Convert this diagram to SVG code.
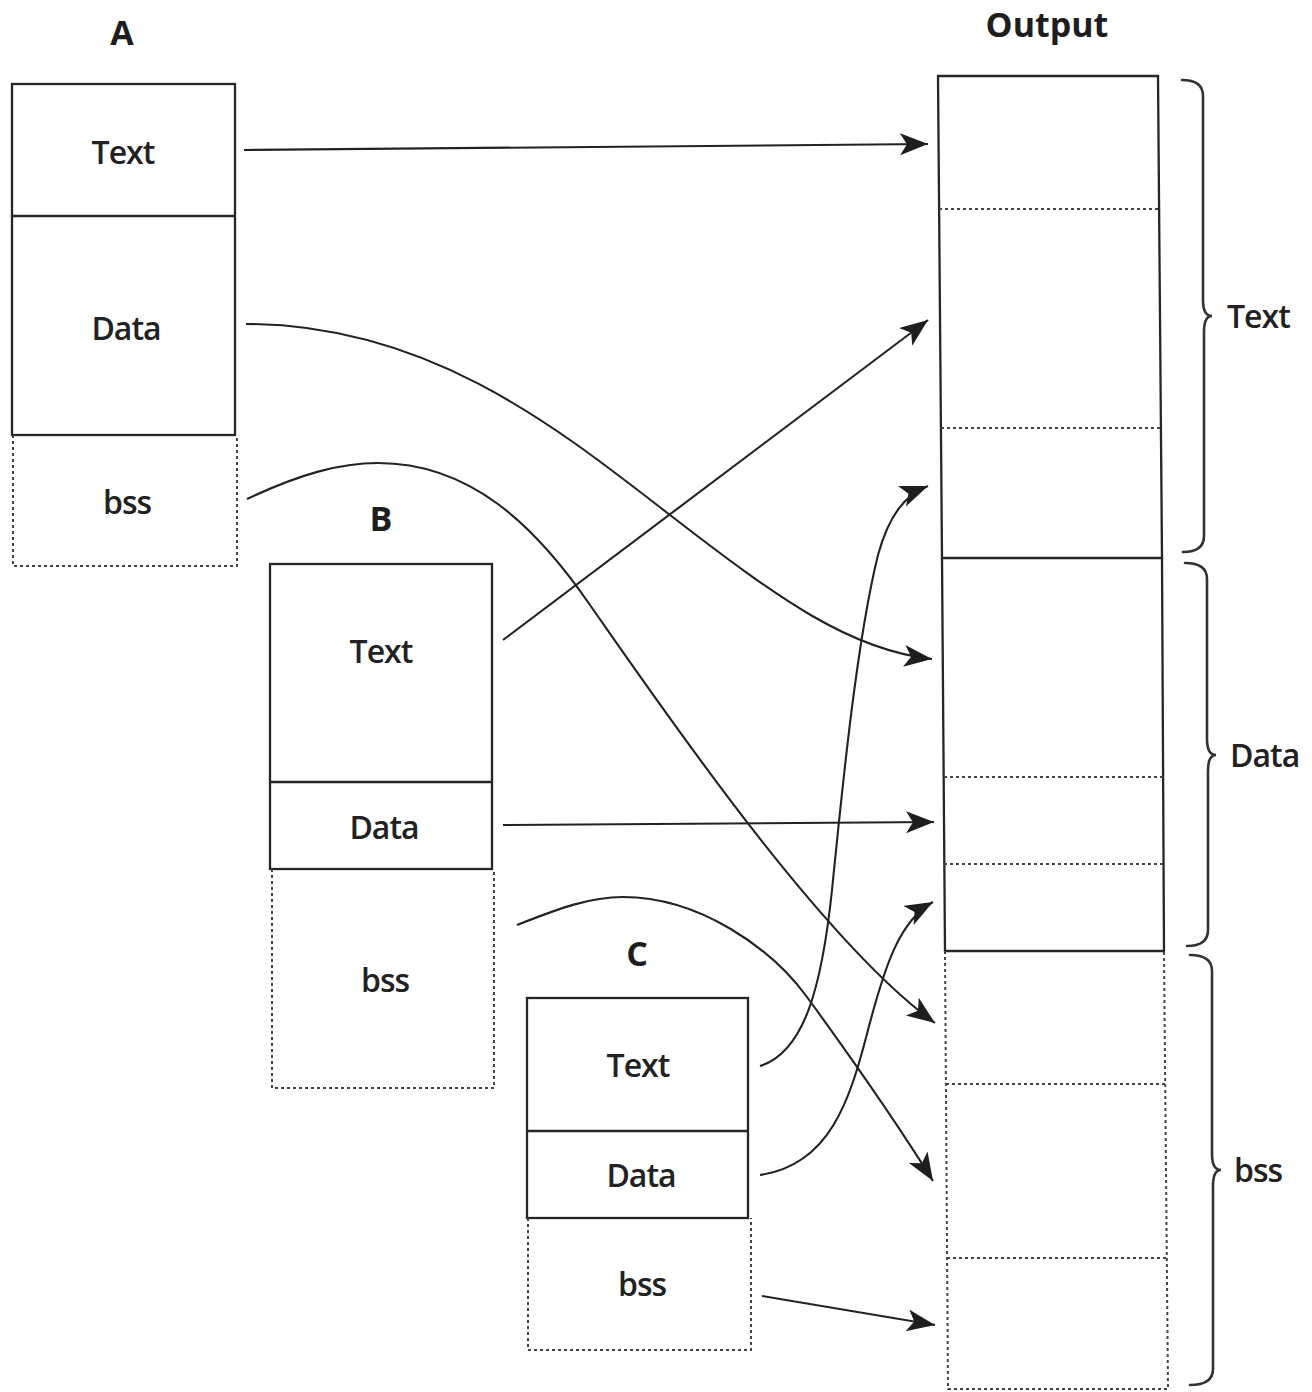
<svg xmlns="http://www.w3.org/2000/svg" width="1312" height="1392" viewBox="0 0 1312 1392">
<defs>
<style>
.bg{fill:#ffffff}
.solid{fill:none;stroke:#262626;stroke-width:2.3}
.dot{fill:none;stroke:#444;stroke-width:2;stroke-dasharray:3 3}
.conn{fill:none;stroke:#222;stroke-width:2.1}
.brace{fill:none;stroke:#333;stroke-width:2.6;stroke-linecap:round}
.lbl{font-family:"Open Sans","Noto Sans","Liberation Sans",sans-serif;font-size:32px;font-weight:600;fill:#222;text-anchor:middle;letter-spacing:-1px}
.side{font-family:"Open Sans","Noto Sans","Liberation Sans",sans-serif;font-size:32px;font-weight:600;fill:#222;letter-spacing:-1px}
.title{font-family:"Open Sans","Noto Sans","Liberation Sans",sans-serif;font-size:34px;font-weight:bold;fill:#1e1e1e;text-anchor:middle}
</style>
<marker id="arr" markerUnits="userSpaceOnUse" markerWidth="30" markerHeight="24" refX="28" refY="11" orient="auto">
<path d="M0,0 L28,11 L0,22 L7,11 z" fill="#1e1e1e"/>
</marker>
</defs>
<rect class="bg" x="0" y="0" width="1312" height="1392"/>

<g id="nodeA">
<text class="title" x="122" y="45">A</text>
<rect class="solid" x="12" y="84" width="223" height="351"/>
<line class="solid" x1="12" y1="216" x2="235" y2="216"/>
<path class="dot" d="M13,435 L13,566 L237,566 L237,435"/>
<text class="lbl" x="123" y="164">Text</text>
<text class="lbl" x="126" y="340">Data</text>
<text class="lbl" x="127" y="514">bss</text>
</g>

<g id="nodeB">
<text class="title" x="381" y="531">B</text>
<rect class="solid" x="270" y="564" width="222" height="305"/>
<line class="solid" x1="270" y1="782" x2="492" y2="782"/>
<path class="dot" d="M272,869 L272,1088 L494,1088 L494,869"/>
<text class="lbl" x="381" y="663">Text</text>
<text class="lbl" x="384" y="839">Data</text>
<text class="lbl" x="385" y="992">bss</text>
</g>

<g id="nodeC">
<text class="title" x="637" y="966">C</text>
<rect class="solid" x="527" y="998" width="221" height="220"/>
<line class="solid" x1="527" y1="1131" x2="748" y2="1131"/>
<path class="dot" d="M528,1218 L528,1350 L751,1350 L751,1218"/>
<text class="lbl" x="638" y="1077">Text</text>
<text class="lbl" x="641" y="1187">Data</text>
<text class="lbl" x="642" y="1296">bss</text>
</g>

<g id="nodeOutput">
<text class="title" x="1047" y="37">Output</text>
<path class="solid" d="M942,558 L938,76 L1158,76 L1162,558"/>
<path class="solid" d="M942,558 L945,951 L1164,951 L1162,558 Z"/>
<path class="dot" d="M945,951 L948,1389 L1168,1389 L1164,951"/>
<line class="dot" x1="939" y1="209" x2="1159" y2="209"/>
<line class="dot" x1="941" y1="428" x2="1161" y2="428"/>
<line class="dot" x1="944" y1="777" x2="1163" y2="777"/>
<line class="dot" x1="944" y1="864" x2="1163" y2="864"/>
<line class="dot" x1="946" y1="1084" x2="1165" y2="1084"/>
<line class="dot" x1="947" y1="1258" x2="1167" y2="1258"/>
</g>

<g id="braceText">
<path class="brace" d="M1182,80 Q1203,80 1203,96 L1203,300 Q1203,316 1212,316 Q1204,316 1204,332 L1204,536 Q1204,552 1183,552"/>
<text class="side" x="1227" y="328">Text</text>
</g>
<g id="braceData">
<path class="brace" d="M1185,563 Q1207,563 1207,579 L1207,739 Q1207,755 1216,755 Q1208,755 1208,771 L1208,930 Q1208,946 1187,946"/>
<text class="side" x="1230" y="767">Data</text>
</g>
<g id="braceBss">
<path class="brace" d="M1190,955 Q1212,955 1212,971 L1212,1154 Q1212,1170 1221,1170 Q1213,1170 1213,1186 L1213,1369 Q1213,1385 1190,1385"/>
<text class="side" x="1234" y="1182">bss</text>
</g>

<g id="connectors">
<path class="conn" marker-end="url(#arr)" d="M244,150 L928,144"/>
<path class="conn" marker-end="url(#arr)" d="M246,324 C430,324 560,430 670,515 C780,600 850,650 932,659"/>
<path class="conn" marker-end="url(#arr)" d="M247,499 C300,474 340,463 378,463 C470,463 535,525 590,605 C660,705 820,940 935,1023"/>
<path class="conn" marker-end="url(#arr)" d="M503,640 L928,320"/>
<path class="conn" marker-end="url(#arr)" d="M503,825 L934,822"/>
<path class="conn" marker-end="url(#arr)" d="M517,925 C560,908 590,897 623,897 C700,897 772,949 807,997 C842,1045 895,1120 933,1181"/>
<path class="conn" marker-end="url(#arr)" d="M760,1066 C805,1052 822,985 832,890 C843,780 857,640 878,555 C889,515 905,495 928,486"/>
<path class="conn" marker-end="url(#arr)" d="M760,1175 C830,1165 850,1100 868,1030 C885,965 900,920 933,902"/>
<path class="conn" marker-end="url(#arr)" d="M762,1296 L935,1325"/>
</g>
</svg>
